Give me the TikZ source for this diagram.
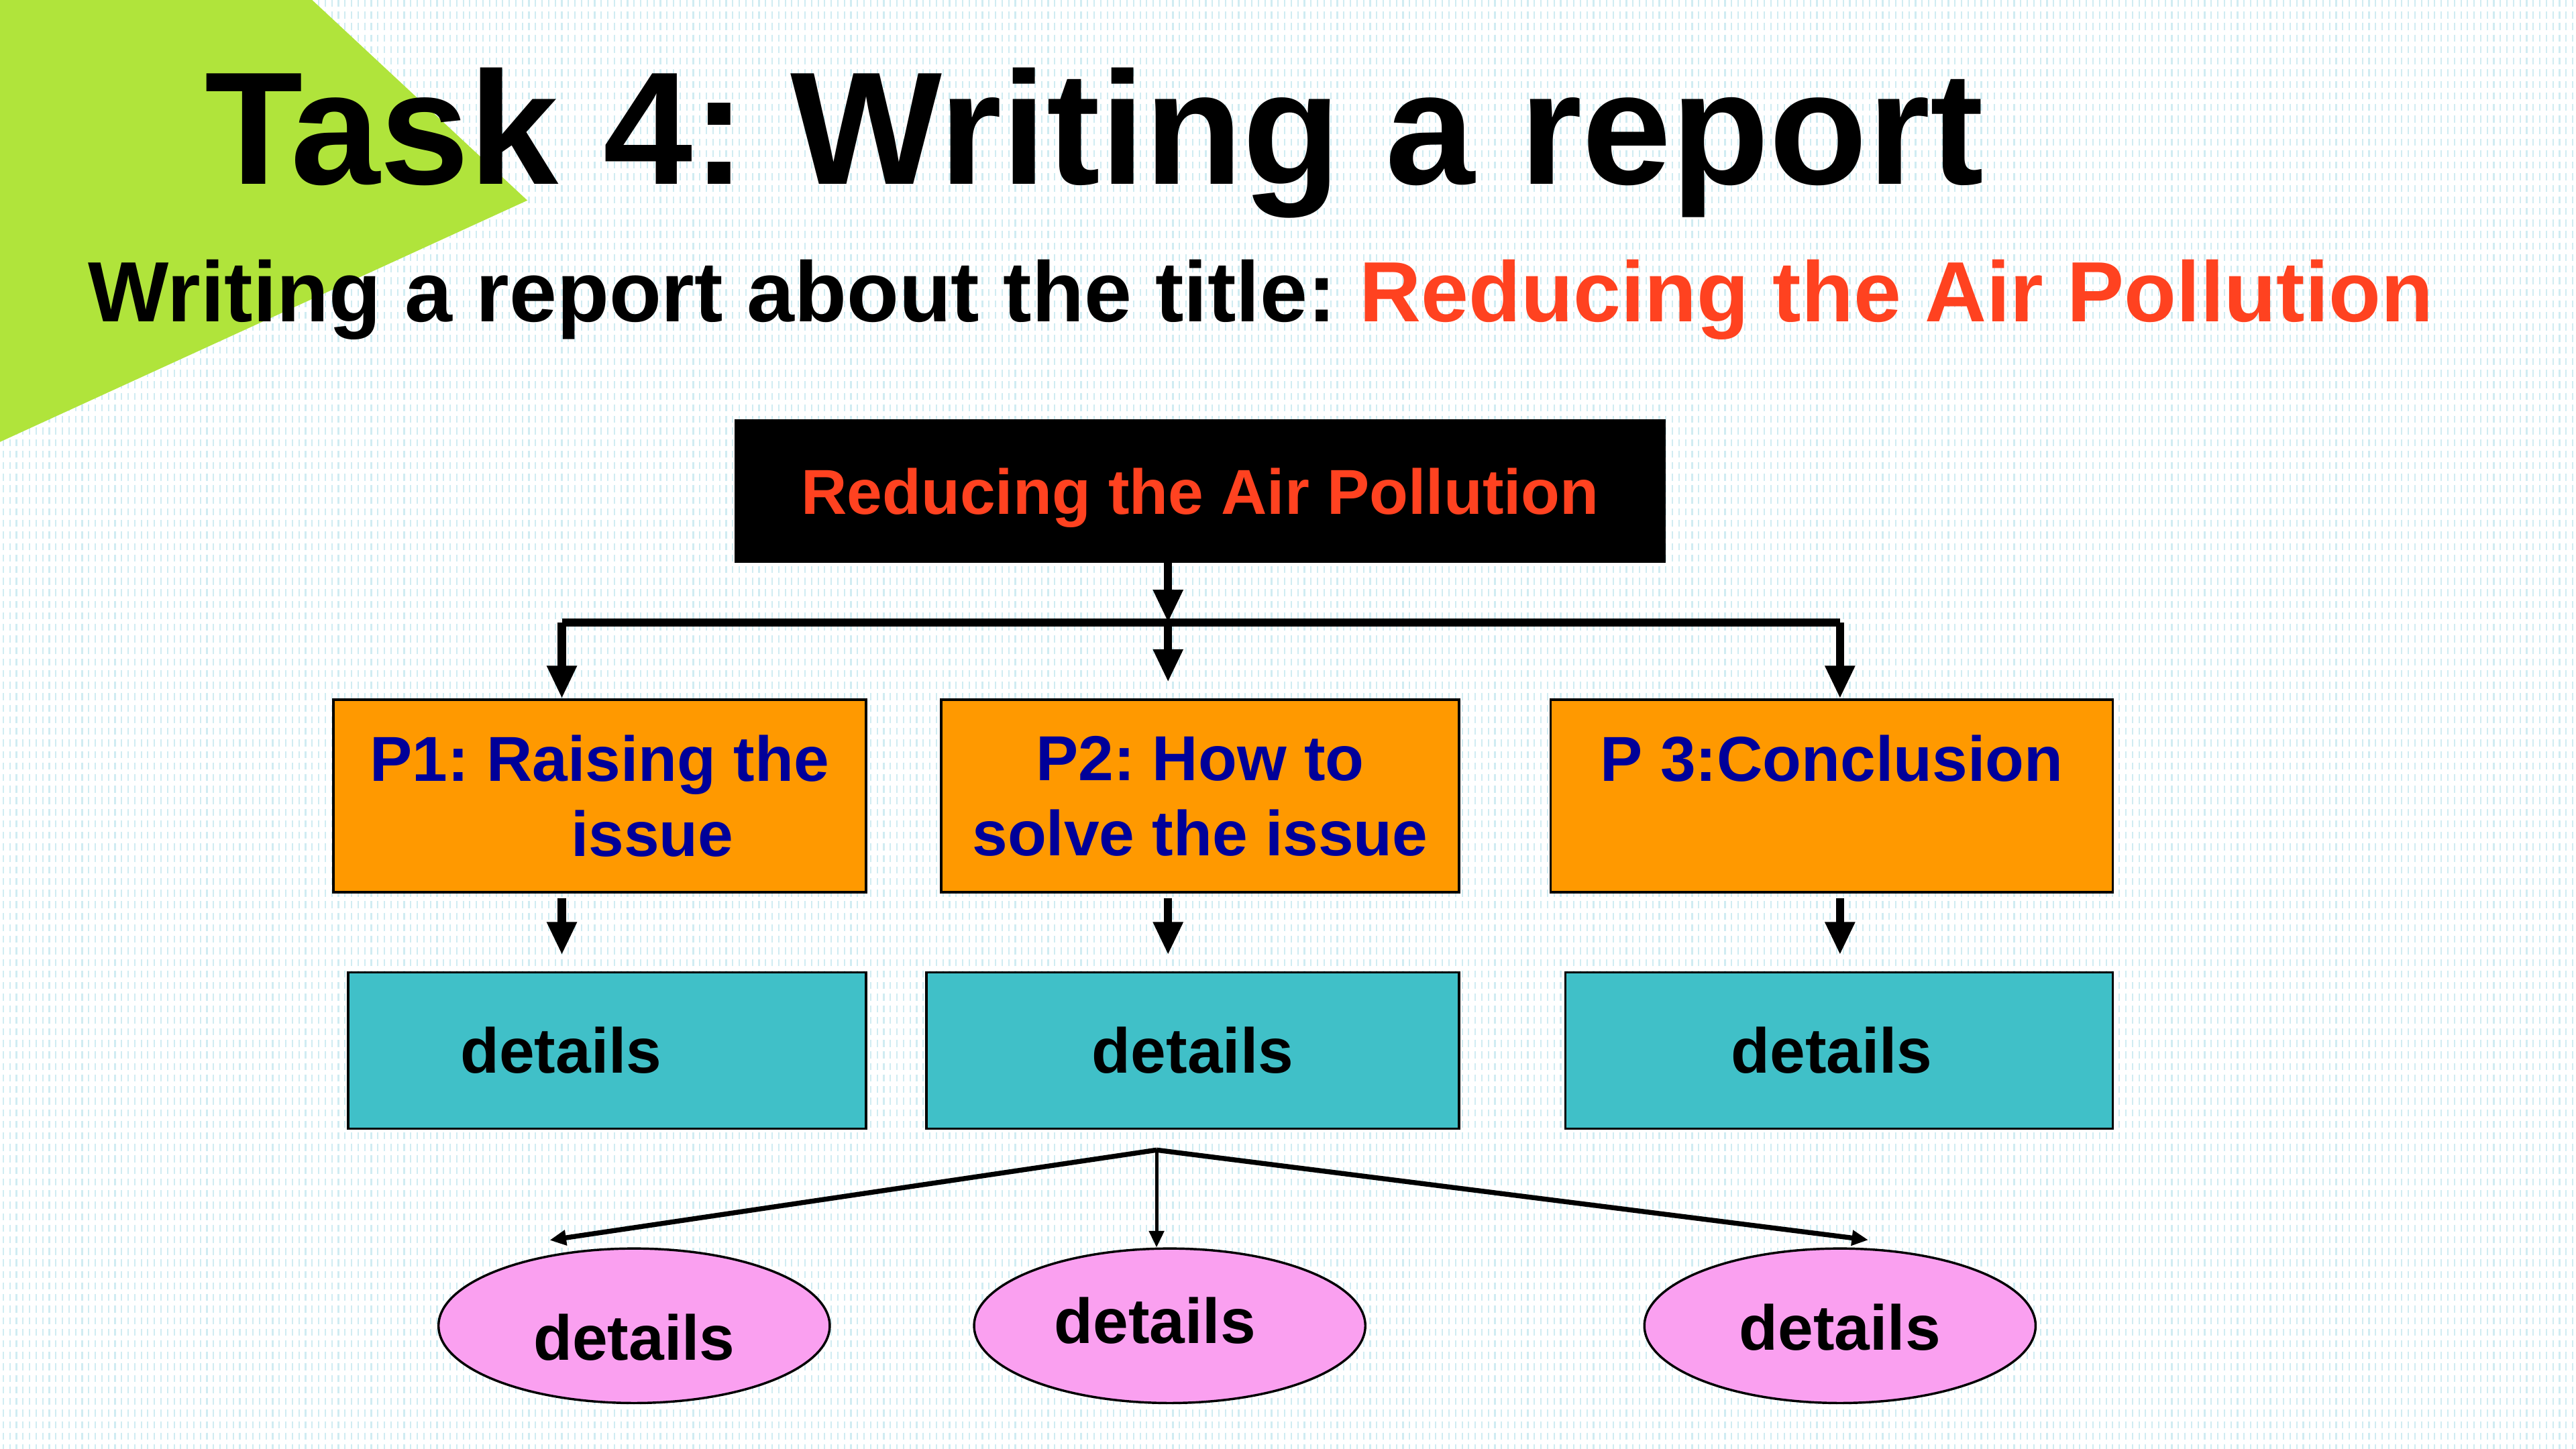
\documentclass[tikz,border=0pt]{standalone}
\usepackage{fontspec}
\setmainfont{Liberation Sans}
\usetikzlibrary{arrows.meta,shapes.geometric}

\definecolor{lime}{RGB}{176,228,59}
\definecolor{boxorange}{RGB}{255,153,0}
\definecolor{boxteal}{RGB}{64,192,200}
\definecolor{ovalpink}{RGB}{250,160,240}
\definecolor{titlered}{RGB}{255,66,32}
\definecolor{navy}{RGB}{0,0,153}
\definecolor{gridblue}{RGB}{208,236,242}
\frenchspacing
\newcommand{\nudge}[2]{\raisebox{#1}[\height][\depth]{#2}}

\begin{document}
\begin{tikzpicture}[x=0.01cm,y=-0.01cm,font=\bfseries,
    tip/.style={line width=0.05cm,-{Triangle[length=0.2cm,width=0.17cm]}},
    thintip/.style={line width=0.03cm,-{Triangle[length=0.1cm,width=0.09cm]}},
    part/.style={rectangle,draw,fill=boxorange,text=navy,minimum height=1.17cm,inner sep=0,align=center,font=\bfseries\fontsize{11}{13}\selectfont},
    detail/.style={rectangle,draw,fill=boxteal,minimum height=0.95cm,inner sep=0,font=\bfseries\fontsize{11}{13}\selectfont},
    oval/.style={ellipse,draw,fill=ovalpink,minimum width=2.38cm,minimum height=0.94cm,inner sep=0,font=\bfseries\fontsize{11}{13}\selectfont}]
    \useasboundingbox (0,0) rectangle (1568,882);
    % background
    \fill[white] (0,0) rectangle (1568,882);
    \foreach \x in {2,6,...,1566}
        \draw[gridblue,line width=0.25pt,dash pattern=on 1.2pt off 0.8pt] (\x,0) -- (\x,882);
    \fill[lime] (0,0) -- (190,0) -- (321,122) -- (0,269) -- cycle;
    % titles
    \node[anchor=base,inner sep=0,font=\bfseries\fontsize{27.8}{30}\selectfont] (title) at (666,112) {Task 4: Writing a report};
    \node[anchor=base west,inner sep=0,font=\bfseries\fontsize{14.8}{17}\selectfont] (sub) at (53,196) {Writing a report about the title: \textcolor{titlered}{Reducing the Air Pollution}};
    % tree
    \node[rectangle,draw,fill=black,text=titlered,minimum width=5.65cm,minimum height=0.86cm,font=\bfseries\fontsize{11}{13}\selectfont] (root) at (730.5,299) {\nudge{-0.04cm}{Reducing the Air Pollution}};
    \node[part,minimum width=3.24cm] (p1) at (365,484.5) {P1: Raising the\\\hspace*{0.64cm}issue};
    \node[part,minimum width=3.15cm] (p2) at (730.5,484.5) {P2: How to\\solve the issue};
    \node[part,minimum width=3.42cm] (p3) at (1115,484.5) {P 3:Conclusion\\\mbox{}};
    \node[detail,minimum width=3.15cm] (d1) at (369.5,639.5) {\hspace*{-0.56cm}details};
    \node[detail,minimum width=3.24cm] (d2) at (726,639.5) {details};
    \node[detail,minimum width=3.33cm] (d3) at (1119.5,639.5) {\hspace*{-0.09cm}details};
    \node[oval] (e1) at (386,807) {\nudge{-0.07cm}{details}};
    \node[oval] (e2) at (712,807) {\hspace*{-0.18cm}\nudge{0.03cm}{details}};
    \node[oval] (e3) at (1120,807) {\nudge{-0.01cm}{details}};
    \coordinate (top) at (711,379);
    \coordinate (bl) at (342,379);
    \coordinate (br) at (1120,379);
    \coordinate (fork) at (704,700);
    % connectors
    \draw[tip] (root.south -| top) -- (top);
    \draw[line width=0.05cm] (bl) -- (br);
    \draw[tip] (bl) -- (bl |- p1.north);
    \draw[tip,shorten >=0.1cm] (top) -- (top |- p2.north);
    \draw[tip] (br) -- (br |- p3.north);
    \draw[tip,shorten <=0.03cm,shorten >=0.1cm] (bl |- p1.south) -- (bl |- d1.north);
    \draw[tip,shorten <=0.03cm,shorten >=0.1cm] (top |- p2.south) -- (top |- d2.north);
    \draw[tip,shorten <=0.03cm,shorten >=0.1cm] (br |- p3.south) -- (br |- d3.north);
    \draw[thintip] (fork) -- ([yshift=0.09cm]e1.140);
    \draw[thintip,line width=0.02cm] (fork) -- (fork |- e2.north);
    \draw[thintip] (fork) -- ([yshift=0.05cm]e3.70);
\end{tikzpicture}
\end{document}
